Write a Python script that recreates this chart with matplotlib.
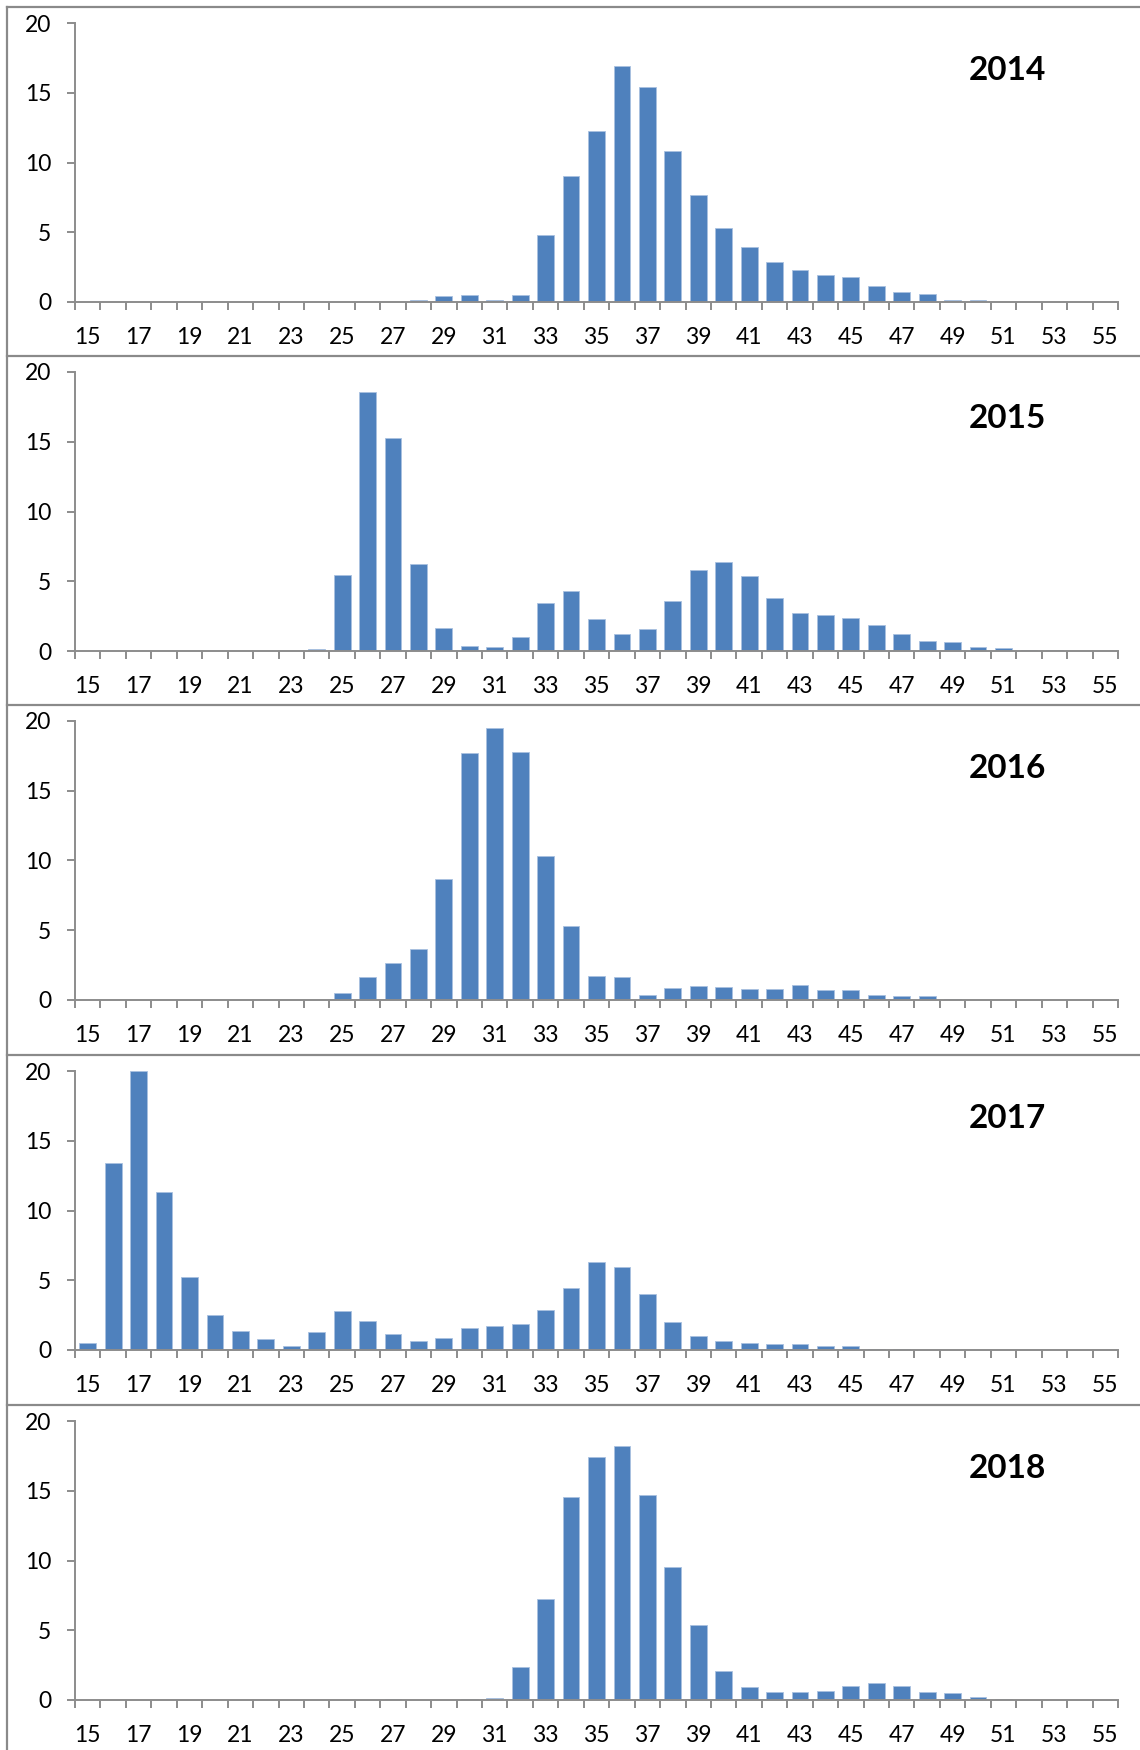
import matplotlib
matplotlib.use("Agg")
import matplotlib.pyplot as plt
from matplotlib.lines import Line2D
import numpy as np

plt.rcParams['font.family'] = ['Lato', 'DejaVu Sans']

# age categories 15..55
ages = list(range(15, 56))

# share of births by age (%), one series per year, values for ages 15..55
vals_2014 = [0, 0, 0, 0, 0, 0, 0, 0, 0, 0, 0, 0, 0, 0.12, 0.41, 0.48, 0.12, 0.48,
             4.83, 9.0, 12.24, 16.92, 15.41, 10.8, 7.65, 5.33, 3.92, 2.87, 2.29,
             1.91, 1.77, 1.15, 0.74, 0.6, 0.14, 0.14, 0, 0, 0, 0, 0]
vals_2015 = [0, 0, 0, 0, 0, 0, 0, 0, 0, 0.17, 5.44, 18.6, 15.27, 6.23, 1.67, 0.38,
             0.29, 1.03, 3.41, 4.3, 2.27, 1.19, 1.6, 3.58, 5.78, 6.4, 5.37, 3.79,
             2.74, 2.6, 2.39, 1.84, 1.19, 0.72, 0.62, 0.31, 0.19, 0.1, 0.05, 0, 0]
vals_2016 = [0, 0, 0, 0, 0, 0, 0, 0, 0, 0, 0.5, 1.67, 2.65, 3.68, 8.69, 17.73,
             19.47, 17.78, 10.33, 5.27, 1.72, 1.67, 0.33, 0.86, 1.03, 0.91, 0.76,
             0.81, 1.1, 0.69, 0.72, 0.38, 0.31, 0.26, 0.05, 0, 0, 0, 0, 0, 0]
vals_2017 = [0.47, 13.44, 20.0, 11.35, 5.21, 2.54, 1.35, 0.76, 0.26, 1.3, 2.8, 2.09,
             1.18, 0.64, 0.88, 1.59, 1.73, 1.85, 2.84, 4.48, 6.3, 5.97, 4.0, 1.99,
             0.97, 0.64, 0.5, 0.45, 0.4, 0.28, 0.26, 0.09, 0.05, 0, 0, 0, 0, 0, 0, 0, 0]
vals_2018 = [0, 0, 0, 0, 0, 0, 0, 0, 0, 0, 0, 0, 0.1, 0.02, 0, 0.05, 0.17, 2.35,
             7.22, 14.54, 17.43, 18.19, 14.68, 9.5, 5.37, 2.07, 0.95, 0.59, 0.59,
             0.64, 1.0, 1.24, 1.0, 0.59, 0.48, 0.19, 0.1, 0, 0, 0, 0]

years = ['2014', '2015', '2016', '2017', '2018']
series = [vals_2014, vals_2015, vals_2016, vals_2017, vals_2018]

W, H = 1140, 1750
fig = plt.figure(figsize=(W / 100, H / 100), dpi=100)

bar_color = '#4f81bd'
axis_gray = '#8c8c8c'
frame_gray = '#8a8a8a'

panel_tops = [7, 356, 705, 1055, 1405]
x = np.arange(len(ages))

for top, year, vals in zip(panel_tops, years, series):
    ax_left, ax_right = 75, 1118
    ax_top, ax_bot = top + 16, top + 295
    ax = fig.add_axes([ax_left / W, 1 - ax_bot / H,
                       (ax_right - ax_left) / W, (ax_bot - ax_top) / H])
    ax.bar(x, vals, width=0.66, color=bar_color, edgecolor='#a9c1e0',
           linewidth=0.6)
    ax.set_xlim(-0.5, len(ages) - 0.5)
    ax.set_ylim(0, 20)

    for s in ['top', 'right']:
        ax.spines[s].set_visible(False)
    for s in ['left', 'bottom']:
        ax.spines[s].set_color(axis_gray)
        ax.spines[s].set_linewidth(1.4)

    # tick marks between categories, labels on every other category
    ax.set_xticks(np.arange(-0.5, len(ages), 1.0))
    ax.set_xticklabels([])
    ax.set_xticks(x[::2], minor=True)
    ax.set_xticklabels([str(a) for a in ages[::2]], minor=True)
    ax.tick_params(axis='x', which='major', direction='out', length=6,
                   width=1.4, color=axis_gray)
    ax.tick_params(axis='x', which='minor', length=0, pad=18, labelsize=16.5)

    ax.set_yticks([0, 5, 10, 15, 20])
    ax.tick_params(axis='y', direction='out', length=6, width=1.4,
                   color=axis_gray, pad=11, labelsize=16.5)

    fig.text(1007 / W, 1 - (top + 63) / H, year, fontsize=24,
             fontweight='bold', ha='center', va='center')

    # panel frame: top edge of each chart box
    fig.add_artist(Line2D([7 / W, 1], [1 - top / H, 1 - top / H],
                          transform=fig.transFigure, color=frame_gray, lw=1.6))

# left edge of the chart boxes
fig.add_artist(Line2D([7 / W, 7 / W], [0, 1 - 7 / H],
                      transform=fig.transFigure, color=frame_gray, lw=1.6))

fig.savefig('out.png', dpi=100)
